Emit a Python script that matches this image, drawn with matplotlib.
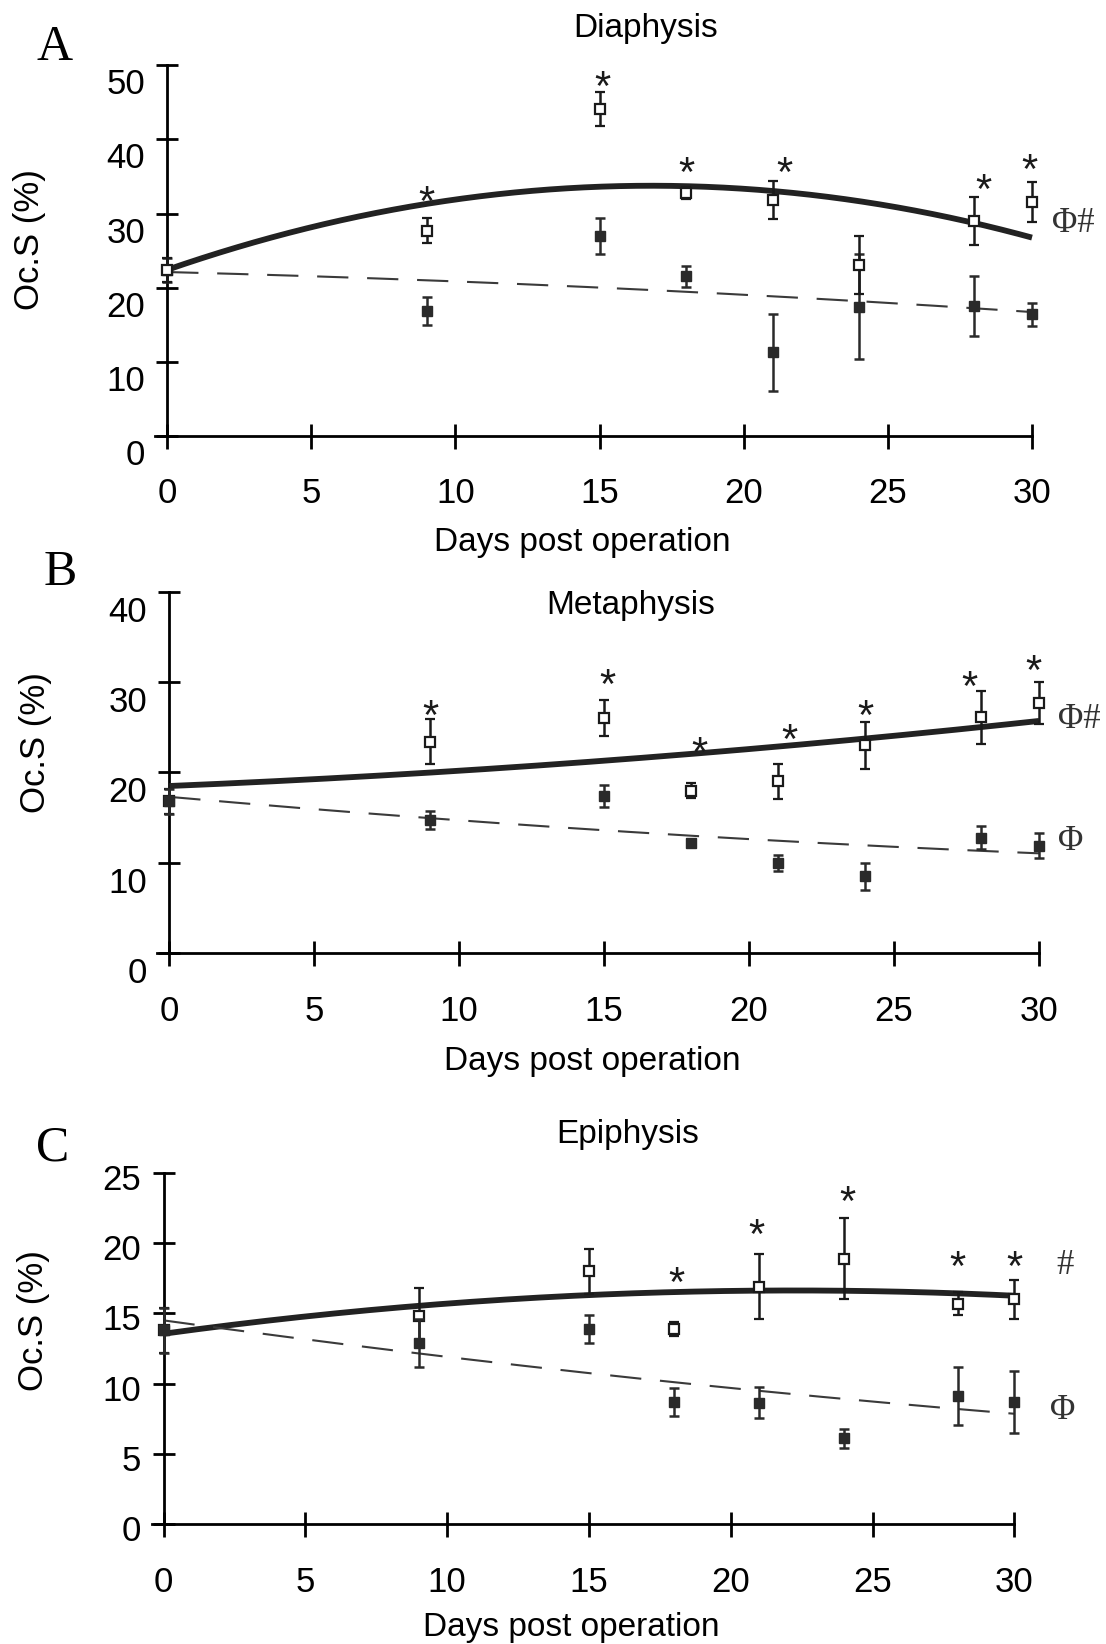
import numpy as np
import matplotlib
matplotlib.use("Agg")
import matplotlib.pyplot as plt
import matplotlib.transforms as mtransforms

plt.rcParams['font.family'] = ['Liberation Sans', 'DejaVu Sans']

W, H = 1106, 1644
DPI = 100

# ---- data ----
days = [0, 9, 15, 18, 21, 24, 28, 30]

A_open = [22.4, 27.7, 44.1, 32.8, 31.8, 23.1, 29.0, 31.6]
A_open_err = [1.6, 1.65, 2.35, 0.8, 2.6, 3.9, 3.2, 2.7]
A_filled = [22.4, 16.8, 27.0, 21.5, 11.3, 17.4, 17.5, 16.4]
A_filled_err = [1.6, 1.9, 2.45, 1.4, 5.2, 7.1, 4.05, 1.55]

B_open = [16.8, 23.4, 26.0, 18.0, 19.0, 23.0, 26.1, 27.7]
B_open_err = [1.4, 2.5, 2.0, 0.8, 1.9, 2.6, 2.9, 2.3]
B_filled = [16.8, 14.7, 17.4, 12.2, 10.0, 8.5, 12.8, 11.9]
B_filled_err = [1.4, 1.0, 1.25, 0.4, 0.9, 1.5, 1.25, 1.4]

C_open = [13.8, 14.8, 18.0, 13.9, 16.9, 18.9, 15.7, 16.0]
C_open_err = [1.6, 2.0, 1.6, 0.5, 2.3, 2.9, 0.8, 1.4]
C_filled = [13.8, 12.9, 13.9, 8.7, 8.65, 6.1, 9.1, 8.7]
C_filled_err = [1.6, 1.7, 1.0, 1.0, 1.1, 0.65, 2.05, 2.2]

# trend line coefficients (highest power first)
fit_A_open = [-0.0402, 1.351, 22.4]
fit_A_filled = [-0.00267, -0.1, 22.1]
fit_B_open = [0.003556, 0.1333, 18.5]
fit_B_filled = [0.002556, -0.285, 17.3]
fit_C_open = [-0.00622, 0.2767, 13.55]
fit_C_filled = [0.00191, -0.2787, 14.5]

# significance asterisks
A_star_x = [9, 15.1, 18, 21.4, 28.3, 29.9]
A_star_y = [32.5, 48.0, 36.4, 36.4, 34.2, 36.9]
B_star_x = [9, 15.1, 18.3, 21.4, 24, 27.6, 29.8]
B_star_y = [27.0, 30.5, 22.9, 24.4, 27.0, 30.3, 32.0]
C_star_x = [18.1, 20.9, 24.1, 28, 30]
C_star_y = [17.65, 21.1, 23.4, 18.8, 18.8]

# right-hand symbols: (day, value, text)
A_marks = [(30.7, 28.7, 'Φ#')]
B_marks = [(30.65, 25.9, 'Φ#'), (30.65, 12.4, 'Φ')]
C_marks = [(31.5, 18.4, '#'), (31.25, 8.1, 'Φ')]

panels = [
    dict(letter='A', title='Diaphysis', ymax=50, ystep=10, filled_top=False,
         x0=167.2, x30=1032, y0=435.7, ytop=65.4, ylab_shift=16,
         open=A_open, open_err=A_open_err, filled=A_filled, filled_err=A_filled_err,
         fit_open=fit_A_open, fit_filled=fit_A_filled,
         star_x=A_star_x, star_y=A_star_y, marks=A_marks,
         letter_xy=(55, 48), title_xy=(646, 28), xlabel_xy=(582, 543), ylabel_xy=(30, 240)),
    dict(letter='B', title='Metaphysis', ymax=40, ystep=10, filled_top=True,
         x0=169.3, x30=1039, y0=953.2, ytop=591.7, ylab_shift=17,
         open=B_open, open_err=B_open_err, filled=B_filled, filled_err=B_filled_err,
         fit_open=fit_B_open, fit_filled=fit_B_filled,
         star_x=B_star_x, star_y=B_star_y, marks=B_marks,
         letter_xy=(60, 573), title_xy=(631, 605), xlabel_xy=(592, 1061), ylabel_xy=(35, 743)),
    dict(letter='C', title='Epiphysis', ymax=25, ystep=5, filled_top=True,
         x0=163.6, x30=1014.3, y0=1524.2, ytop=1172.8, ylab_shift=4,
         open=C_open, open_err=C_open_err, filled=C_filled, filled_err=C_filled_err,
         fit_open=fit_C_open, fit_filled=fit_C_filled,
         star_x=C_star_x, star_y=C_star_y, marks=C_marks,
         letter_xy=(53, 1148), title_xy=(628, 1134), xlabel_xy=(571, 1627), ylabel_xy=(33, 1321)),
]

fig = plt.figure(figsize=(W / DPI, H / DPI), dpi=DPI)
xmin = -0.42
xs = np.linspace(0, 30, 200)


def no_clip(eb):
    eb[0].set_clip_on(False)
    for art in list(eb[1]) + list(eb[2]):
        art.set_clip_on(False)


for p in panels:
    per_day = (p['x30'] - p['x0']) / 30
    left = p['x0'] + xmin * per_day
    ax = fig.add_axes([left / W, 1 - p['y0'] / H, (p['x30'] - left) / W, (p['y0'] - p['ytop']) / H])
    ax.set_xlim(xmin, 30)
    ax.set_ylim(0, p['ymax'])
    ax.patch.set_alpha(0)

    for s in ['top', 'right']:
        ax.spines[s].set_visible(False)
    ax.spines['left'].set_position(('data', 0))
    ax.spines['left'].set_linewidth(2.0)
    ax.spines['bottom'].set_linewidth(2.0)

    ax.set_xticks(range(0, 31, 5))
    ax.set_yticks(range(0, p['ymax'] + 1, p['ystep']))
    ax.tick_params(axis='x', direction='inout', length=18, width=2.0, pad=21, labelsize=25)
    ax.tick_params(axis='y', direction='inout', length=16, width=2.0, pad=8, labelsize=25)

    shift = mtransforms.ScaledTranslation(0, -p['ylab_shift'] / DPI, fig.dpi_scale_trans)
    for lab in ax.get_yticklabels():
        lab.set_transform(lab.get_transform() + shift)

    # trend lines
    ax.plot(xs, np.polyval(p['fit_open'], xs), color='#222222', lw=4.2, zorder=3,
            solid_capstyle='butt', clip_on=False)
    ax.plot(xs, np.polyval(p['fit_filled'], xs), color='#3a3a3a', lw=1.5, zorder=3,
            dashes=(15, 9), clip_on=False)

    # data with error bars
    z_filled = 6 if p['filled_top'] else 4
    eb = ax.errorbar(days, p['filled'], yerr=p['filled_err'], fmt='s', color='#2a2a2a',
                     ms=7, mfc='#2a2a2a', mec='#2a2a2a', elinewidth=1.8, capsize=3.8,
                     capthick=1.8, zorder=z_filled)
    no_clip(eb)
    eb = ax.errorbar(days, p['open'], yerr=p['open_err'], fmt='s', color='#1a1a1a',
                     ms=6.5, mfc='white', mec='#1a1a1a', mew=1.6, elinewidth=1.8,
                     capsize=3.8, capthick=1.8, zorder=5)
    no_clip(eb)

    for sx, sy in zip(p['star_x'], p['star_y']):
        ax.annotate('*', (sx, sy), xytext=(0, -14.5), textcoords='offset points',
                    ha='center', va='baseline', fontsize=30, color='#1a1a1a',
                    annotation_clip=False)
    for mx, my, mt in p['marks']:
        ax.text(mx, my, mt, ha='left', va='center', fontsize=25, color='#333333',
                family=['Liberation Serif', 'DejaVu Serif'], clip_on=False)

    fig.text(p['letter_xy'][0] / W, 1 - p['letter_xy'][1] / H, p['letter'],
             ha='center', va='center', fontsize=36, family=['Liberation Serif', 'DejaVu Serif'])
    fig.text(p['title_xy'][0] / W, 1 - p['title_xy'][1] / H, p['title'],
             ha='center', va='center', fontsize=24)
    fig.text(p['xlabel_xy'][0] / W, 1 - p['xlabel_xy'][1] / H, 'Days post operation',
             ha='center', va='center', fontsize=24)
    fig.text(p['ylabel_xy'][0] / W, 1 - p['ylabel_xy'][1] / H, 'Oc.S (%)',
             ha='center', va='center', fontsize=25, rotation=90)

fig.savefig('out.png', dpi=DPI)
